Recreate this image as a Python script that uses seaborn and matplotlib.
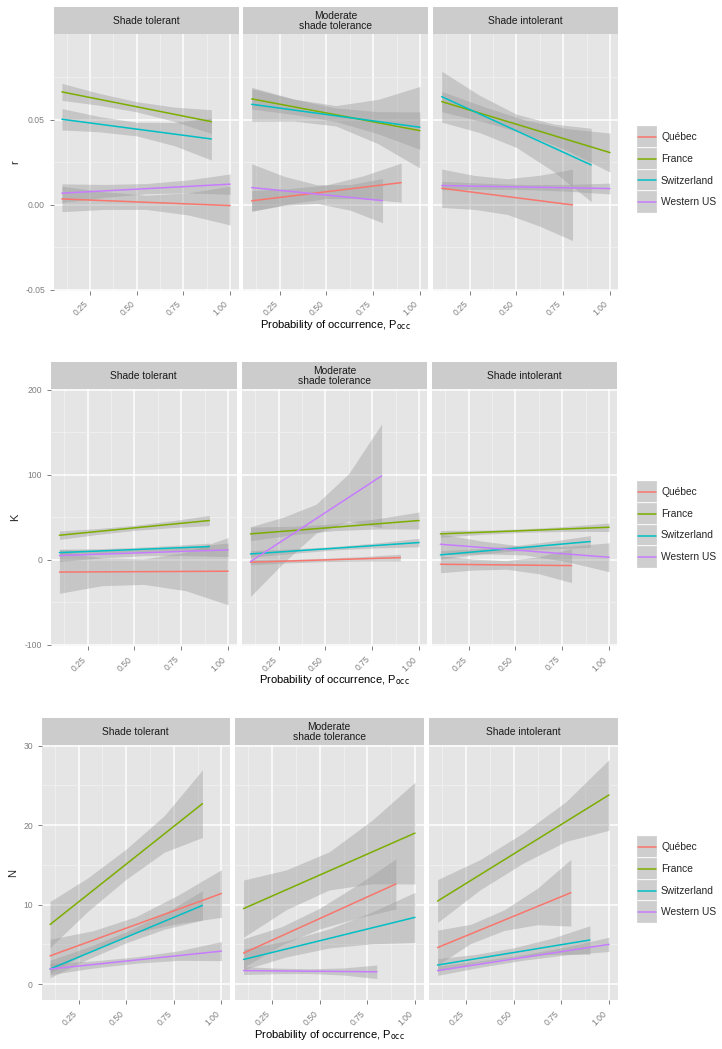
import numpy as np
import pandas as pd
import matplotlib
matplotlib.use("Agg")
import matplotlib.pyplot as plt
import matplotlib.transforms as mtransforms
import seaborn as sns
from matplotlib.patches import Rectangle

# ---------------- data ----------------
groups = ["Québec", "France", "Switzerland", "Western US"]
colors = ["#F8766D", "#7CAE00", "#00BFC4", "#C77CFF"]
panels = ["Shade tolerant", "Moderate\nshade tolerance", "Shade intolerant"]
x_start = 0.1
# end of x range per panel, per group
x_end = [[1.0, 0.9, 0.9, 1.0], [0.9, 1.0, 1.0, 0.8], [0.8, 1.0, 0.9, 1.0]]
x_ticks = [0.25, 0.50, 0.75, 1.00]
x_tick_labels = ["0.25", "0.50", "0.75", "1.00"]
# confidence band half-widths are read at 0, 1/4, 1/2, 3/4 and 1 of each fitted x range

# r
r_start = [[0.0035, 0.0665, 0.0504, 0.0069], [0.0024, 0.0624, 0.0592, 0.0102], [0.0098, 0.0608, 0.0637, 0.0114]]
r_end = [[-0.0004, 0.049, 0.0388, 0.0122], [0.0131, 0.0437, 0.0457, 0.0025], [0.0, 0.0308, 0.0235, 0.0096]]
r_hw = [
    [[0.0075, 0.0052, 0.0042, 0.0065, 0.0114], [0.005, 0.0035, 0.003, 0.0042, 0.007],
     [0.0063, 0.0045, 0.004, 0.0068, 0.0124], [0.0055, 0.0038, 0.003, 0.0038, 0.006]],
    [[0.006, 0.0045, 0.004, 0.0068, 0.0115], [0.006, 0.0045, 0.004, 0.0065, 0.011],
     [0.010, 0.0065, 0.006, 0.013, 0.024], [0.014, 0.0085, 0.0055, 0.0075, 0.013]],
    [[0.0113, 0.0100, 0.0105, 0.015, 0.021], [0.006, 0.0045, 0.004, 0.0065, 0.0115],
     [0.015, 0.011, 0.0098, 0.014, 0.0216], [0.0025, 0.0018, 0.0015, 0.002, 0.0032]],
]
r_yticks = [-0.05, 0.0, 0.05]
r_ytick_labels = ["-0.05", "0.00", "0.05"]

# K
K_start = [[-14.3, 29.0, 8.6, 5.1], [-2.7, 30.6, 7.0, -2.0], [-5.1, 30.6, 5.9, 18.4]]
K_end = [[-13.3, 46.3, 15.7, 11.8], [2.7, 46.3, 20.4, 98.8], [-6.7, 38.4, 21.6, 3.1]]
K_hw = [
    [[25.0, 16.3, 15.0, 22.7, 39.5], [5.0, 3.5, 3.0, 4.0, 6.0],
     [4.0, 2.8, 2.5, 3.0, 4.0], [7.0, 4.5, 3.5, 5.0, 8.0]],
    [[3.0, 2.2, 2.0, 2.6, 4.0], [8.0, 5.0, 4.0, 6.0, 10.0],
     [4.0, 2.7, 2.0, 3.0, 5.0], [41.0, 27.0, 17.0, 28.0, 61.0]],
    [[10.0, 6.5, 5.0, 10.0, 20.0], [4.0, 2.5, 2.0, 3.0, 5.0],
     [5.0, 3.5, 3.0, 4.5, 7.0], [12.0, 7.5, 5.0, 9.0, 17.0]],
]
K_yticks = [-100, 0, 100, 200]
K_ytick_labels = ["-100", "0", "100", "200"]

# N
N_start = [[3.55, 7.5, 1.9, 1.9], [3.9, 9.5, 3.1, 1.7], [4.6, 10.45, 2.4, 1.7]]
N_end = [[11.4, 22.7, 9.9, 4.15], [12.6, 19.0, 8.4, 1.55], [11.5, 23.8, 5.55, 5.0]]
N_hw = [
    [[2.1, 1.2, 1.0, 1.8, 3.0], [2.9, 2.1, 1.9, 2.3, 4.25],
     [1.1, 0.75, 0.7, 1.0, 1.85], [0.7, 0.45, 0.4, 0.6, 1.2]],
    [[1.8, 1.15, 1.3, 2.1, 3.15], [3.6, 2.5, 2.4, 4.0, 6.4],
     [1.3, 1.0, 1.2, 2.0, 3.15], [0.5, 0.35, 0.3, 0.45, 0.85]],
    [[2.2, 1.2, 1.3, 2.3, 4.2], [2.7, 1.9, 1.9, 2.5, 4.45],
     [0.8, 0.55, 0.6, 1.0, 1.8], [0.6, 0.4, 0.35, 0.5, 0.9]],
]
N_yticks = [0, 10, 20, 30]
N_ytick_labels = ["0", "10", "20", "30"]

# ---------------- style ----------------
sns.set_theme(style="darkgrid")
plt.rcParams['font.family'] = ['Liberation Sans', 'DejaVu Sans']

W, H = 722, 1049
fig = plt.figure(figsize=(W / 100, H / 100), dpi=100)
fig.patch.set_facecolor("white")


def box(x0, y0, w, h):
    return [x0 / W, 1 - (y0 + h) / H, w / W, h / H]


rows = [
    dict(label="r", start=r_start, end=r_end, hw=r_hw,
         yticks=r_yticks, ylabels=r_ytick_labels, ylim=(-0.0505, 0.1004),
         strip_top=7.3, panel_top=34.3, panel_bot=290.7, lefts=[53.5, 243.3, 433.3], width=185.0,
         xlab_y=325, ylab_x=15, leg_top=126),
    dict(label="K", start=K_start, end=K_end, hw=K_hw,
         yticks=K_yticks, ylabels=K_ytick_labels, ylim=(-101.0, 200.6),
         strip_top=362.3, panel_top=389.3, panel_bot=645.8, lefts=[51.0, 242.0, 432.0], width=185.5,
         xlab_y=680, ylab_x=15, leg_top=481),
    dict(label="N", start=N_start, end=N_end, hw=N_hw,
         yticks=N_yticks, ylabels=N_ytick_labels, ylim=(-2.0, 30.05),
         strip_top=718.3, panel_top=745.3, panel_bot=1000.0, lefts=[41.5, 235.0, 429.0], width=188.5,
         xlab_y=1035, ylab_x=13, leg_top=836),
]

TICK_COL = "#7F7F7F"
RIBBON = "#999999"
fracs = np.array([0.0, 0.25, 0.5, 0.75, 1.0])
label_shift = mtransforms.ScaledTranslation(4.5 / 100, 0, fig.dpi_scale_trans)

for row in rows:
    ph = row["panel_bot"] - row["panel_top"]
    yt = row["yticks"]
    step = yt[1] - yt[0]
    yminor = [v + step / 2 for v in [yt[0] - step] + yt]
    for p in range(3):
        left = row["lefts"][p]
        ax = fig.add_axes(box(left, row["panel_top"], row["width"], ph))
        ax.set_facecolor("#E5E5E5")
        for s in ax.spines.values():
            s.set_visible(False)

        for g in range(4):
            x0, x1 = x_start, x_end[p][g]
            y0, y1 = row["start"][p][g], row["end"][p][g]
            xs = x0 + (x1 - x0) * fracs
            ys = y0 + (y1 - y0) * fracs
            hw = np.array(row["hw"][p][g])
            ax.fill_between(xs, ys - hw, ys + hw, color=RIBBON, alpha=0.4, lw=0, zorder=2)
            df = pd.DataFrame({"x": [x0, x1], "y": [y0, y1]})
            sns.lineplot(data=df, x="x", y="y", color=colors[g], lw=1.1, ax=ax,
                         estimator=None, zorder=3)
        ax.set_xlabel("")
        ax.set_ylabel("")

        ax.set_xlim(0.055, 1.045)
        ax.set_xticks(x_ticks)
        ax.set_xticks([0.125, 0.375, 0.625, 0.875], minor=True)
        ax.set_yticks(yt)
        ax.set_yticks(yminor, minor=True)
        ax.set_ylim(*row["ylim"])
        ax.grid(which="major", color="white", lw=1.1)
        ax.grid(which="minor", color="#F2F2F2", lw=0.5)
        ax.set_axisbelow(True)
        ax.set_xticklabels(x_tick_labels, rotation=45, ha="right", va="top",
                           fontsize=6.2, color=TICK_COL)
        for lab in ax.get_xticklabels():
            lab.set_transform(lab.get_transform() + label_shift)
        ax.tick_params(axis="x", which="major", length=3.2, width=0.7, color=TICK_COL,
                       pad=3.2, bottom=True)
        ax.tick_params(which="minor", length=0)
        if p == 0:
            ax.set_yticklabels(row["ylabels"], fontsize=6.2, color=TICK_COL)
            ax.tick_params(axis="y", which="major", length=3.2, width=0.7, color=TICK_COL,
                           pad=3.0, left=True)
        else:
            ax.set_yticklabels([])
            ax.tick_params(axis="y", which="major", length=0)

        # strip
        sx = fig.add_axes(box(left, row["strip_top"], row["width"], row["panel_top"] - row["strip_top"]))
        sx.set_facecolor("#CCCCCC")
        sx.set_xticks([])
        sx.set_yticks([])
        for s in sx.spines.values():
            s.set_visible(False)
        sx.grid(False)
        sx.text(0.5, 0.5, panels[p], ha="center", va="center", fontsize=7.4,
                color="#1A1A1A", linespacing=1.0, transform=sx.transAxes)

    # axis titles
    xc = (row["lefts"][0] + row["lefts"][2] + row["width"]) / 2
    fig.text(xc / W, 1 - row["xlab_y"] / H, r"Probability of occurrence, P$_{\mathrm{occ}}$",
             ha="center", va="center", fontsize=8, color="black")
    fig.text(row["ylab_x"] / W, 1 - (row["panel_top"] + ph / 2) / H, row["label"],
             ha="center", va="center", fontsize=8, rotation=90)

    # legend
    kh = 21.8
    lax = fig.add_axes(box(637, row["leg_top"], 20, 4 * kh))
    lax.set_xlim(0, 1)
    lax.set_ylim(4, 0)
    lax.axis("off")
    for i in range(4):
        lax.add_patch(Rectangle((0, i), 1, 1, facecolor="#F2F2F2", edgecolor="white", lw=1.2))
        lax.add_patch(Rectangle((0, i), 1, 1, facecolor=RIBBON, alpha=0.4, lw=0))
        lax.plot([0.04, 0.96], [i + 0.5, i + 0.5], color=colors[i], lw=1.1)
        fig.text(661 / W, 1 - (row["leg_top"] + (i + 0.5) * kh) / H, groups[i],
                 ha="left", va="center", fontsize=7.4)

fig.savefig("out.png", dpi=100)
